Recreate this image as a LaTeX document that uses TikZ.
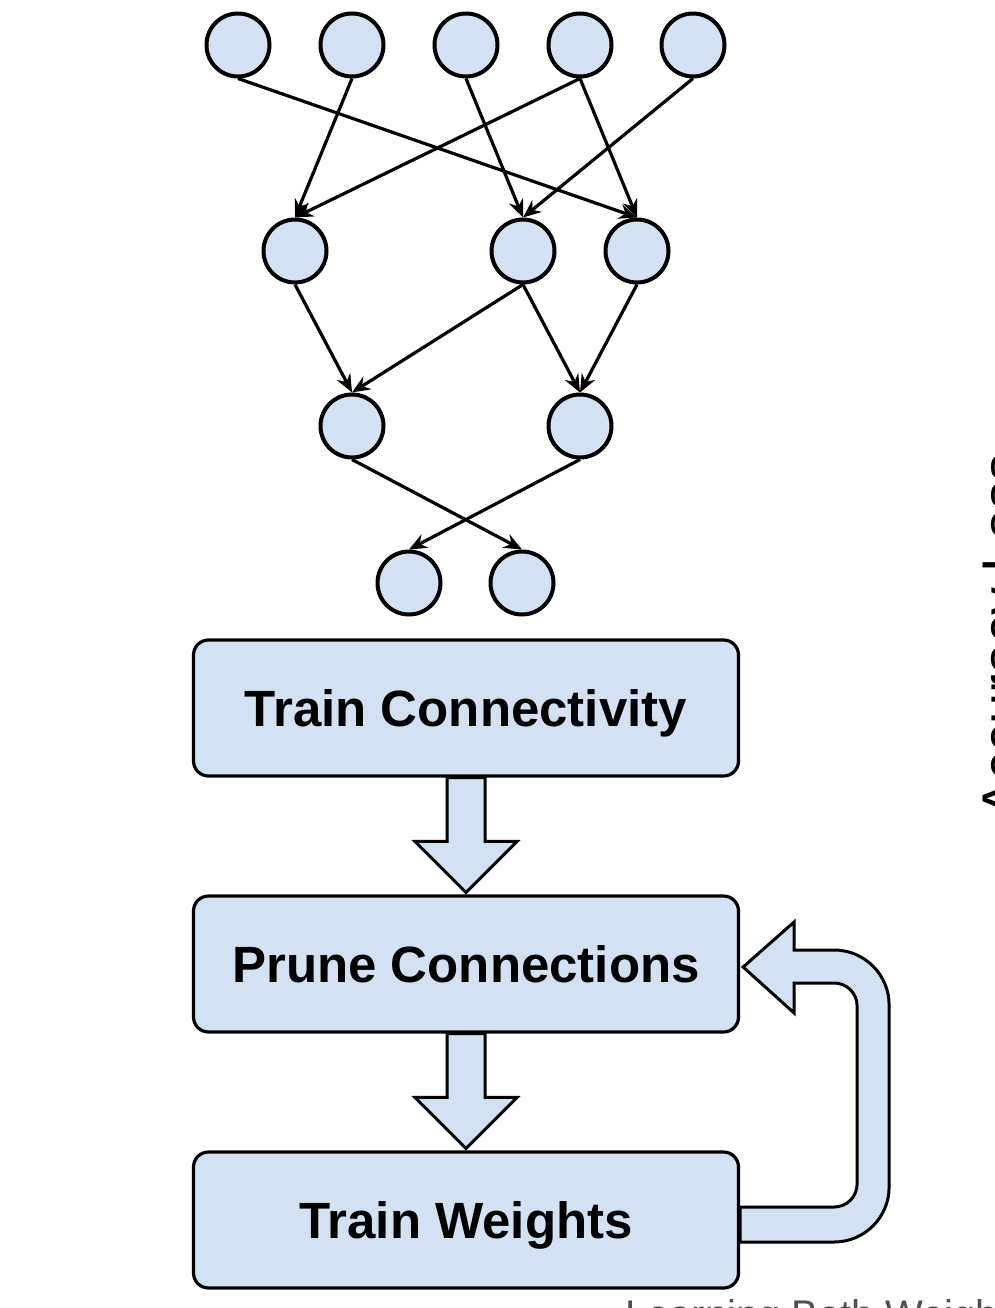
\documentclass[tikz,border=0pt]{standalone}
\usepackage{fontspec}
\setmainfont{Liberation Sans}
\usetikzlibrary{arrows.meta,backgrounds}
\definecolor{nfill}{HTML}{D4E1F2}
\definecolor{tgray}{HTML}{505050}
\begin{document}
\begin{tikzpicture}[x=1pt,y=1pt,
  neuron/.style={circle,draw=black,line width=4pt,fill=nfill,minimum size=63pt,inner sep=0pt},
  edge/.style={line width=3.2pt,-{Stealth[length=18pt,width=15pt,inset=6pt]}},
  stepbox/.style={draw=black,line width=3.2pt,fill=nfill,rounded corners=15pt,minimum width=545pt,minimum height=136pt,inner sep=0pt,font=\fontsize{51}{60}\selectfont\bfseries,text height=36.5pt,text depth=0pt},
  barrow/.style={draw=black,line width=3pt,fill=nfill,line join=miter}
]
\useasboundingbox (0,0) rectangle (994,-1308);
\clip (0,0) rectangle (994,-1308);

% network
\node[neuron] (t1) at (238,-45) {};
\node[neuron] (t2) at (352,-45) {};
\node[neuron] (t3) at (466,-45) {};
\node[neuron] (t4) at (580,-45) {};
\node[neuron] (t5) at (693,-45) {};
\node[neuron] (s1) at (295,-251) {};
\node[neuron] (s2) at (523,-251) {};
\node[neuron] (s3) at (637,-251) {};
\node[neuron] (m1) at (352,-426) {};
\node[neuron] (m2) at (580,-426) {};
\node[neuron] (b1) at (409,-583) {};
\node[neuron] (b2) at (522,-583) {};

\draw[edge] (t1.south) -- (s3.north);
\draw[edge] (t2.south) -- (s1.north);
\draw[edge] (t3.south) -- (s2.north);
\draw[edge] (t4.south) -- (s1.north);
\draw[edge] (t4.south) -- (s3.north);
\draw[edge] (t5.south) -- (s2.north);
\draw[edge] (s1.south) -- (m1.north);
\draw[edge] (s2.south) -- (m1.north);
\draw[edge] (s2.south) -- (m2.north);
\draw[edge] (s3.south) -- (m2.north);
\draw[edge] (m1.south) -- (b2.north);
\draw[edge] (m2.south) -- (b1.north);

% flow boxes
\node[stepbox] (tc) at (466,-708) {Train Connectivity};
\node[stepbox] (pc) at (466,-964) {Prune Connections};
\node[stepbox] (tw) at (466,-1220) {Train Weights};

\begin{scope}[on background layer]
\fill[white] (0,0) rectangle (994,-1308);
\draw[barrow] ([xshift=-19pt]tc.south) |- ([xshift=-51pt,yshift=53pt]pc.north)
  -- ([yshift=2pt]pc.north) -- ([xshift=51pt,yshift=53pt]pc.north)
  -| ([xshift=19pt]tc.south) -- cycle;
\draw[barrow] ([xshift=-19pt]pc.south) |- ([xshift=-51pt,yshift=53pt]tw.north)
  -- ([yshift=2pt]tw.north) -- ([xshift=51pt,yshift=53pt]tw.north)
  -| ([xshift=19pt]pc.south) -- cycle;
\draw[barrow] ([yshift=-22pt]tw.east) -- ++(94,0)
  arc[start angle=-90,end angle=0,radius=55] -- ++(0,182)
  arc[start angle=0,end angle=90,radius=55] -- ++(-40,0) -- ++(0,28)
  -- ([xshift=3pt,yshift=-3pt]pc.east) -- ++(51,-46) -- ++(0,30) -- ++(40,0)
  arc[start angle=90,end angle=0,radius=23] -- ++(0,-178)
  arc[start angle=0,end angle=-90,radius=23]
  -- ([yshift=13pt]tw.east) -- cycle;
\end{scope}

% cut-off captions
\node[anchor=base west,text=tgray,font=\fontsize{40}{48}\selectfont,inner sep=0pt] (cap) at (625,-1328) {Learning Both Weights};
\node[rotate=90,anchor=base west,font=\fontsize{56}{64}\selectfont,inner sep=0pt] (side) at (1021,-818) {Accuracy Loss};
\end{tikzpicture}
\end{document}
